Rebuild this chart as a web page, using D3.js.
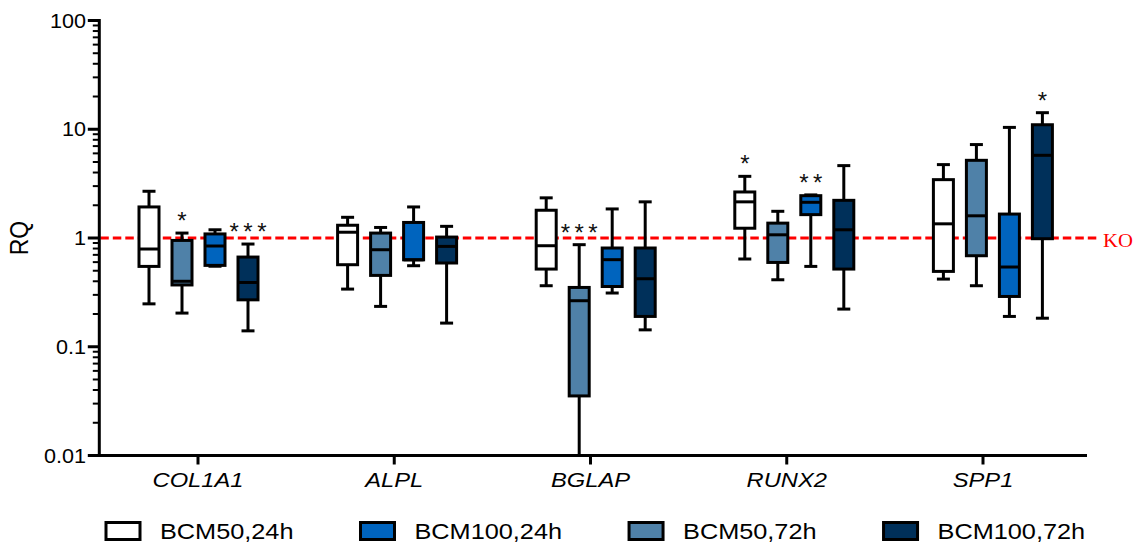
<!DOCTYPE html>
<html><head><meta charset="utf-8">
<script src="https://cdn.jsdelivr.net/npm/d3@7"></script>
<style>
body{margin:0;background:#fff}
text{font-family:Arial,"Liberation Sans",sans-serif}
</style>
</head><body>
<svg id="c" width="1140" height="546"></svg>
<script>
// ---------------- data ----------------
const genes = ["COL1A1", "ALPL", "BGLAP", "RUNX2", "SPP1"];
// order of boxes inside each gene group
const seriesOrder = ["BCM50,24h", "BCM50,72h", "BCM100,24h", "BCM100,72h"];
const legendOrder = ["BCM50,24h", "BCM100,24h", "BCM50,72h", "BCM100,72h"];
const seriesColors = ["#ffffff", "#4f81a8", "#0064be", "#00305a"];

// [gene][series] in seriesOrder
const whiskerMin = [
  [0.248, 0.204, 0.55, 0.14],
  [0.339, 0.235, 0.556, 0.165],
  [0.364, 0.01, 0.312, 0.143],
  [0.641, 0.413, 0.548, 0.222],
  [0.419, 0.364, 0.19, 0.183]
];
const q1 = [
  [0.548, 0.37, 0.56, 0.27],
  [0.568, 0.453, 0.63, 0.589],
  [0.518, 0.0353, 0.358, 0.19],
  [1.23, 0.596, 1.64, 0.518],
  [0.493, 0.687, 0.29, 0.985]
];
const median = [
  [0.792, 0.40, 0.844, 0.39],
  [1.13, 0.78, 0.63, 0.837],
  [0.849, 0.265, 0.632, 0.422],
  [2.15, 1.07, 2.13, 1.19],
  [1.35, 1.60, 0.541, 5.76]
];
const q3 = [
  [1.93, 0.95, 1.09, 0.668],
  [1.31, 1.11, 1.39, 1.02],
  [1.80, 0.351, 0.809, 0.809],
  [2.65, 1.37, 2.45, 2.22],
  [3.44, 5.18, 1.66, 11.0]
];
const whiskerMax = [
  [2.69, 1.11, 1.19, 0.88],
  [1.55, 1.25, 1.93, 1.28],
  [2.34, 0.868, 1.85, 2.15],
  [3.69, 1.76, 2.49, 4.63],
  [4.73, 7.23, 10.4, 14.2]
];
const stars = [
  ["", "*", "", "***"],
  ["", "", "", ""],
  ["", "***", "", ""],
  ["*", "", "**", ""],
  ["", "", "", "*"]
];
const yTickValues = [0.01, 0.1, 1, 10, 100];
const yTickLabels = ["0.01", "0.1", "1", "10", "100"];
const yTitle = "RQ";
const referenceValue = 1;
const referenceLabel = "KO";

// ---------------- chart ----------------
const svg = d3.select("#c");
const y = d3.scaleLog().domain([0.01, 100]).range([455.5, 20.5]);
const xGroup = d3.scaleBand().domain(genes).range([99.2, 1092.2]);
const xSeries = d3.scalePoint().domain(seriesOrder).range([-49.5, 49.5]);
const xTick = d3.scalePoint().domain(genes).range([198, 983]);
const color = d3.scaleOrdinal().domain(seriesOrder).range(seriesColors);

const boxW = 20, capW = 13, sw = 3;
const axisX = 99.3, axisY = 455.5, axisRight = 1087;

// reference line
svg.append("line")
  .attr("x1", axisX + 1).attr("x2", 1097)
  .attr("y1", y(referenceValue)).attr("y2", y(referenceValue))
  .attr("stroke", "#f00").attr("stroke-width", 3)
  .attr("stroke-dasharray", "8.5,4");
svg.append("text")
  .attr("transform", `translate(1103,${y(referenceValue) + 8.5}) scale(1.15,1)`)
  .style("font-family", "'Liberation Serif','Times New Roman',serif")
  .style("font-size", "18px").attr("fill", "#f00")
  .text(referenceLabel);

// boxes
const items = [];
genes.forEach((g, gi) => seriesOrder.forEach((s, si) => {
  items.push({g, s, gi, si,
    lo: whiskerMin[gi][si], q1: q1[gi][si], med: median[gi][si],
    q3: q3[gi][si], hi: whiskerMax[gi][si], star: stars[gi][si]});
}));
const cx = d => xGroup(d.g) + xGroup.bandwidth() / 2 + xSeries(d.s);

const bx = svg.append("g").selectAll("g").data(items).join("g");
bx.append("line")
  .attr("x1", cx).attr("x2", cx)
  .attr("y1", d => y(d.hi)).attr("y2", d => y(d.lo))
  .attr("stroke", "#000").attr("stroke-width", sw);
bx.append("line")
  .attr("x1", d => cx(d) - capW / 2).attr("x2", d => cx(d) + capW / 2)
  .attr("y1", d => y(d.hi)).attr("y2", d => y(d.hi))
  .attr("stroke", "#000").attr("stroke-width", sw);
bx.append("line")
  .attr("x1", d => cx(d) - capW / 2).attr("x2", d => cx(d) + capW / 2)
  .attr("y1", d => y(d.lo)).attr("y2", d => y(d.lo))
  .attr("stroke", "#000").attr("stroke-width", sw);
bx.append("rect")
  .attr("x", d => cx(d) - boxW / 2).attr("width", boxW)
  .attr("y", d => y(d.q3)).attr("height", d => y(d.q1) - y(d.q3))
  .attr("fill", d => color(d.s)).attr("stroke", "#000").attr("stroke-width", sw);
bx.append("line")
  .attr("x1", d => cx(d) - boxW / 2).attr("x2", d => cx(d) + boxW / 2)
  .attr("y1", d => y(d.med)).attr("y2", d => y(d.med))
  .attr("stroke", "#000").attr("stroke-width", sw);
const starSpacing = 4.5;
bx.filter(d => d.star).append("text")
  .attr("x", d => cx(d) + starSpacing / 2)
  .attr("y", d => y(d.hi) - 4)
  .attr("text-anchor", "middle")
  .style("font-size", "24px").style("letter-spacing", starSpacing + "px")
  .attr("fill", "#111")
  .text(d => d.star);

// y axis
svg.append("line").attr("x1", axisX).attr("x2", axisX)
  .attr("y1", y(100) - 1.5).attr("y2", axisY + 1.5)
  .attr("stroke", "#000").attr("stroke-width", 3);
const minors = [];
yTickValues.slice(0, -1).forEach(d => { for (let k = 2; k <= 9; k++) minors.push(d * k); });
svg.append("g").selectAll("line").data(minors).join("line")
  .attr("x1", axisX - 6.5).attr("x2", axisX)
  .attr("y1", d => y(d)).attr("y2", d => y(d))
  .attr("stroke", "#000").attr("stroke-width", 2);
svg.append("g").selectAll("line").data(yTickValues).join("line")
  .attr("x1", axisX - 11.5).attr("x2", axisX)
  .attr("y1", d => y(d)).attr("y2", d => y(d))
  .attr("stroke", "#000").attr("stroke-width", 3);
svg.append("g").selectAll("text").data(yTickValues).join("text")
  .attr("transform", d => `translate(86,${y(d)}) scale(1.08,1)`)
  .attr("dy", "0.36em").attr("text-anchor", "end")
  .style("font-size", "20px").attr("fill", "#000")
  .text((d, i) => yTickLabels[i]);
svg.append("text")
  .attr("transform", `translate(28,238) rotate(-90) scale(1,1.15)`)
  .attr("text-anchor", "middle")
  .style("font-size", "23px").attr("fill", "#000")
  .text(yTitle);

// x axis
svg.append("line").attr("x1", axisX - 1.5).attr("x2", axisRight)
  .attr("y1", axisY).attr("y2", axisY)
  .attr("stroke", "#000").attr("stroke-width", 3);
svg.append("g").selectAll("line").data(genes).join("line")
  .attr("x1", d => xTick(d)).attr("x2", d => xTick(d))
  .attr("y1", axisY).attr("y2", axisY + 9)
  .attr("stroke", "#000").attr("stroke-width", 3);
svg.append("g").selectAll("text").data(genes).join("text")
  .attr("transform", d => `translate(${xTick(d)},486.7) scale(1.13,1)`)
  .attr("text-anchor", "middle")
  .style("font-size", "21px").style("font-style", "italic").attr("fill", "#000")
  .text(d => d);

// legend
const lg = svg.append("g");
let lx = 106;
legendOrder.forEach(s => {
  lg.append("rect").attr("x", lx).attr("y", 522.5).attr("width", 34).attr("height", 17)
    .attr("fill", color(s)).attr("stroke", "#000").attr("stroke-width", 3);
  const t = lg.append("text")
    .attr("transform", `translate(${lx + 54},539) scale(1.15,1)`)
    .style("font-size", "22px").attr("fill", "#000").text(s);
  const w = t.node().getComputedTextLength() * 1.15;
  lx = lx + 54 + w + 67;
});
</script>
</body></html>
